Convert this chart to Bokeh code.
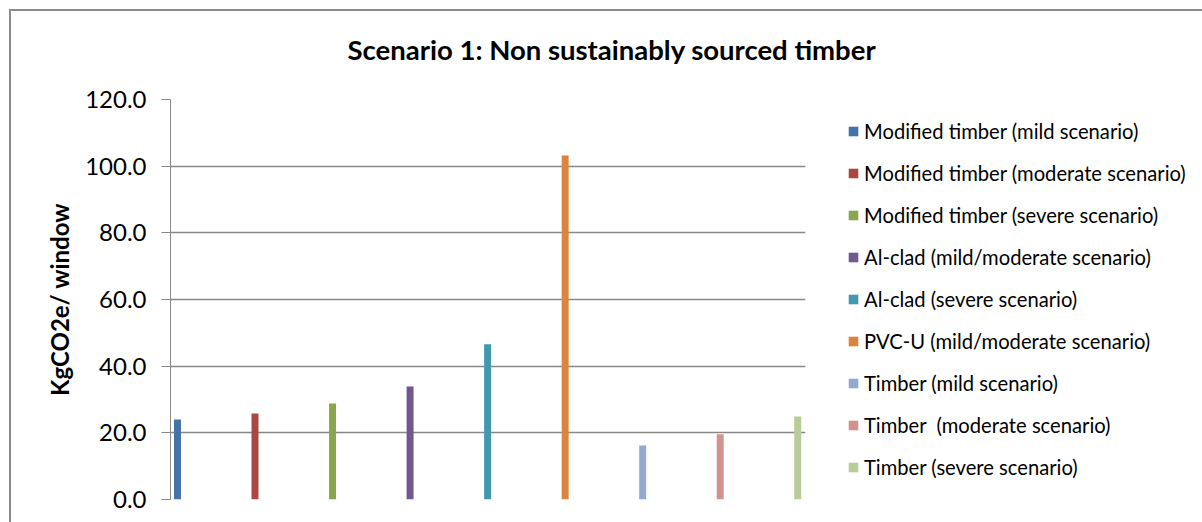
from bokeh.plotting import figure
from bokeh.models import Range1d, FixedTicker, NumeralTickFormatter, Legend, LegendItem, Title
from bokeh.embed import file_html
from bokeh.resources import INLINE

series = [
    "Modified timber (mild scenario)",
    "Modified timber (moderate scenario)",
    "Modified timber (severe scenario)",
    "Al-clad (mild/moderate scenario)",
    "Al-clad (severe scenario)",
    "PVC-U (mild/moderate scenario)",
    "Timber (mild scenario)",
    "Timber  (moderate scenario)",
    "Timber (severe scenario)",
]
values = [24.0, 25.8, 28.8, 33.9, 46.6, 103.2, 16.2, 19.6, 24.9]
colors = ["#4572A7", "#AA4643", "#89A54E", "#71588F", "#4198AF",
          "#DB843D", "#93A9CF", "#D19392", "#B9CD96"]
y_ticks = [0, 20, 40, 60, 80, 100, 120]
title_text = "Scenario 1: Non sustainably sourced timber"

FONT = "Lato"

p = figure(frame_width=635, frame_height=400, output_backend="svg", toolbar_location=None,
           x_range=Range1d(-0.09, 8.1), y_range=Range1d(0, 120),
           min_border_left=159, min_border_right=396, min_border_top=88,
           min_border_bottom=23)
p.styles = {"border-top": "2px solid #8c8c8c", "border-left": "2px solid #8c8c8c",
            "margin-left": "9px", "margin-top": "9px"}
p.outline_line_color = None
p.xaxis.visible = False
p.xgrid.visible = False

p.ygrid.grid_line_color = "#888888"
p.ygrid.grid_line_width = 1.5

ax = p.yaxis[0]
ax.ticker = FixedTicker(ticks=y_ticks)
ax.formatter = NumeralTickFormatter(format="0.0")
ax.minor_tick_line_color = None
ax.major_tick_in = 0
ax.major_tick_out = 9
ax.major_tick_line_color = "#888888"
ax.axis_line_color = "#8c8c8c"
ax.major_label_text_font = FONT
ax.major_label_text_font_size = "24px"
ax.major_label_text_color = "black"
ax.major_label_standoff = 15
ax.axis_label = "KgCO2e/ window"
ax.axis_label_text_font = FONT
ax.axis_label_text_font_size = "24px"
ax.axis_label_text_font_style = "bold"
ax.axis_label_text_color = "black"
ax.axis_label_standoff = 8

# spacer between plot frame and the title
spacer = Title(text=" ", text_font_size="1px", standoff=31)
p.add_layout(spacer, "above")

p.title.text = title_text
p.title.align = "left"
p.title.offset = 177
p.title.text_font = FONT
p.title.text_font_size = "27.5px"
p.title.text_font_style = "bold"
p.title.text_color = "black"
p.title.standoff = 0

items = []
for i, (name, v, c) in enumerate(zip(series, values, colors)):
    r = p.vbar(x=[i], top=[v], bottom=0, width=0.09, fill_color=c, line_color=None)
    items.append(LegendItem(label=name, renderers=[r]))

legend = Legend(items=items, location=(42, 20))
legend.border_line_color = None
legend.background_fill_alpha = 0
legend.padding = 0
legend.margin = 0
legend.glyph_width = 12
legend.glyph_height = 12
legend.label_standoff = 5
legend.spacing = 18
legend.label_text_font = FONT
legend.label_text_font_size = "20.2px"
legend.label_text_color = "black"
p.add_layout(legend, "right")

open("out.html", "w").write(file_html(p, INLINE))
